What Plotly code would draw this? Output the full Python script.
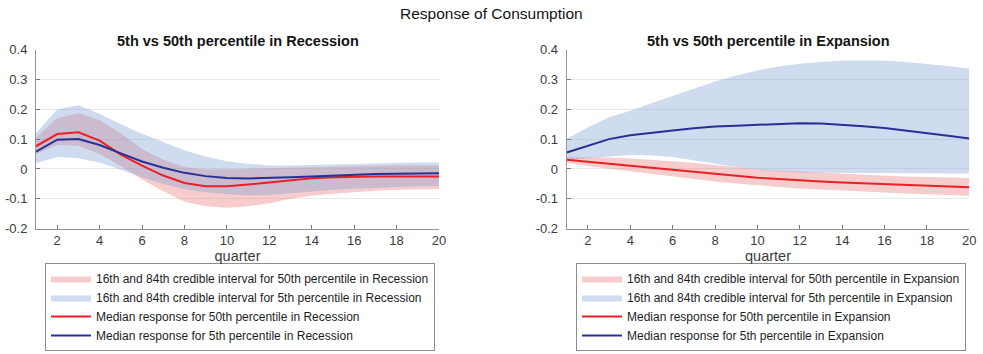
import plotly.graph_objects as go

quarters = list(range(1, 21))

# Recession panel
rec_med50 = [0.076, 0.117, 0.123, 0.095, 0.048, 0.011, -0.022, -0.047, -0.058, -0.058,
             -0.052, -0.045, -0.037, -0.031, -0.028, -0.026, -0.025, -0.025, -0.025, -0.025]
rec_up50 = [0.105, 0.170, 0.187, 0.163, 0.120, 0.067, 0.031, 0.007, -0.002, -0.002,
            0.001, 0.003, 0.005, 0.007, 0.009, 0.010, 0.011, 0.012, 0.012, 0.012]
rec_lo50 = [0.050, 0.080, 0.078, 0.050, 0.010, -0.035, -0.075, -0.110, -0.125, -0.130,
            -0.125, -0.115, -0.100, -0.090, -0.083, -0.077, -0.073, -0.070, -0.068, -0.067]
rec_med5 = [0.058, 0.098, 0.100, 0.080, 0.052, 0.025, 0.004, -0.013, -0.024, -0.030,
            -0.032, -0.031, -0.028, -0.025, -0.022, -0.019, -0.017, -0.016, -0.015, -0.014]
rec_up5 = [0.120, 0.200, 0.213, 0.185, 0.150, 0.118, 0.090, 0.063, 0.042, 0.026,
           0.017, 0.012, 0.012, 0.014, 0.016, 0.018, 0.020, 0.021, 0.022, 0.022]
rec_lo5 = [0.020, 0.040, 0.036, 0.022, -0.003, -0.028, -0.050, -0.067, -0.078, -0.085,
           -0.088, -0.087, -0.082, -0.075, -0.070, -0.066, -0.062, -0.060, -0.058, -0.057]

# Expansion panel
exp_med50 = [0.031, 0.024, 0.018, 0.011, 0.004, -0.003, -0.010, -0.017, -0.023, -0.029,
             -0.034, -0.038, -0.042, -0.045, -0.048, -0.051, -0.054, -0.057, -0.059, -0.061]
exp_up50 = [0.040, 0.040, 0.038, 0.035, 0.031, 0.026, 0.020, 0.013, 0.006, 0.000,
            -0.005, -0.009, -0.013, -0.017, -0.020, -0.023, -0.025, -0.027, -0.028, -0.030]
exp_lo50 = [0.020, 0.010, 0.001, -0.008, -0.017, -0.026, -0.034, -0.042, -0.049, -0.055,
            -0.060, -0.065, -0.069, -0.073, -0.076, -0.079, -0.082, -0.085, -0.088, -0.090]
exp_med5 = [0.055, 0.078, 0.100, 0.113, 0.122, 0.129, 0.136, 0.142, 0.145, 0.148,
            0.151, 0.153, 0.152, 0.148, 0.143, 0.137, 0.129, 0.120, 0.111, 0.102]
exp_up5 = [0.100, 0.140, 0.173, 0.195, 0.220, 0.245, 0.270, 0.293, 0.313, 0.330,
           0.343, 0.352, 0.358, 0.362, 0.363, 0.362, 0.358, 0.352, 0.345, 0.336]
exp_lo5 = [0.030, 0.035, 0.042, 0.047, 0.045, 0.040, 0.030, 0.018, 0.007, -0.002,
           -0.008, -0.012, -0.013, -0.014, -0.014, -0.015, -0.015, -0.015, -0.015, -0.015]

y_ticks = [-0.2, -0.1, 0, 0.1, 0.2, 0.3, 0.4]
y_tick_labels = ["-0.2", "-0.1", "0", "0.1", "0.2", "0.3", "0.4"]
x_ticks = [2, 4, 6, 8, 10, 12, 14, 16, 18, 20]

RED_FILL = "rgba(236,128,128,0.40)"
BLUE_FILL = "rgba(130,160,210,0.38)"
RED_LINE = "rgb(234,32,40)"
BLUE_LINE = "rgb(40,48,150)"
FONT = "Liberation Sans, Arial, sans-serif"

fig = go.Figure()


def add_panel(xa, ya, leg, regime, up50, lo50, med50, up5, lo5, med5):
    fig.add_trace(go.Scatter(
        x=quarters + quarters[::-1], y=up50 + lo50[::-1], fill="toself",
        fillcolor=RED_FILL, line=dict(width=0), mode="lines", hoverinfo="skip",
        name=f"16th and 84th credible interval for 50th percentile in {regime}",
        xaxis=xa, yaxis=ya, legend=leg))
    fig.add_trace(go.Scatter(
        x=quarters + quarters[::-1], y=up5 + lo5[::-1], fill="toself",
        fillcolor=BLUE_FILL, line=dict(width=0), mode="lines", hoverinfo="skip",
        name=f"16th and 84th credible interval for 5th percentile in {regime}",
        xaxis=xa, yaxis=ya, legend=leg))
    fig.add_trace(go.Scatter(
        x=quarters, y=med50, mode="lines", line=dict(color=RED_LINE, width=2),
        name=f"Median response for 50th percentile in {regime}",
        xaxis=xa, yaxis=ya, legend=leg))
    fig.add_trace(go.Scatter(
        x=quarters, y=med5, mode="lines", line=dict(color=BLUE_LINE, width=2),
        name=f"Median response for 5th percentile in {regime}",
        xaxis=xa, yaxis=ya, legend=leg))


add_panel("x", "y", "legend", "Recession", rec_up50, rec_lo50, rec_med50, rec_up5, rec_lo5, rec_med5)
add_panel("x2", "y2", "legend2", "Expansion", exp_up50, exp_lo50, exp_med50, exp_up5, exp_lo5, exp_med5)

W, H = 983, 354
y_dom = [1 - 228.7 / H, 1 - 49.5 / H]

axis_common = dict(showline=True, linecolor="rgb(150,150,150)", linewidth=1,
                   ticks="inside", ticklen=4, tickcolor="rgb(120,120,120)",
                   tickfont=dict(family=FONT, size=13, color="rgb(60,60,60)"),
                   zeroline=False, mirror=False)

xa = dict(range=[1, 20], tickvals=x_ticks, showgrid=False,
          title=dict(text="quarter", font=dict(family=FONT, size=14.5, color="rgb(60,60,60)"), standoff=0),
          **axis_common)
ya = dict(range=[-0.2, 0.4], tickvals=y_ticks, ticktext=y_tick_labels, showgrid=True,
          gridcolor="rgb(232,232,232)", gridwidth=1, ticklabelstandoff=5, **axis_common)

legend_common = dict(bgcolor="white", bordercolor="rgb(140,140,140)", borderwidth=1,
                     font=dict(family=FONT, size=12, color="rgb(30,30,30)"),
                     xanchor="left", yanchor="top", tracegroupgap=0, itemwidth=40,
                     y=1 - 263 / H)

fig.update_layout(
    width=W, height=H,
    margin=dict(l=0, r=0, t=0, b=0, autoexpand=False),
    paper_bgcolor="white", plot_bgcolor="white",
    showlegend=True,
    xaxis=dict(domain=[36 / W, 439 / W], anchor="y", **xa),
    yaxis=dict(domain=y_dom, anchor="x", **ya),
    xaxis2=dict(domain=[566.7 / W, 969.3 / W], anchor="y2", **xa),
    yaxis2=dict(domain=y_dom, anchor="x2", **ya),
    legend=dict(x=45 / W, **legend_common),
    legend2=dict(x=576 / W, **legend_common),
    annotations=[
        dict(text="Response of Consumption", x=491 / W, y=1 - 13 / H, xref="paper", yref="paper",
             showarrow=False, xanchor="center", yanchor="middle",
             font=dict(family=FONT, size=15.5, color="rgb(20,20,20)")),
        dict(text="<b>5th vs 50th percentile in Recession</b>", x=237.5 / W, y=1 - 41 / H,
             xref="paper", yref="paper", showarrow=False, xanchor="center", yanchor="middle",
             font=dict(family=FONT, size=14.5, color="rgb(20,20,20)")),
        dict(text="<b>5th vs 50th percentile in Expansion</b>", x=768 / W, y=1 - 41 / H,
             xref="paper", yref="paper", showarrow=False, xanchor="center", yanchor="middle",
             font=dict(family=FONT, size=14.5, color="rgb(20,20,20)")),
    ],
)

fig.write_html("out.html")
